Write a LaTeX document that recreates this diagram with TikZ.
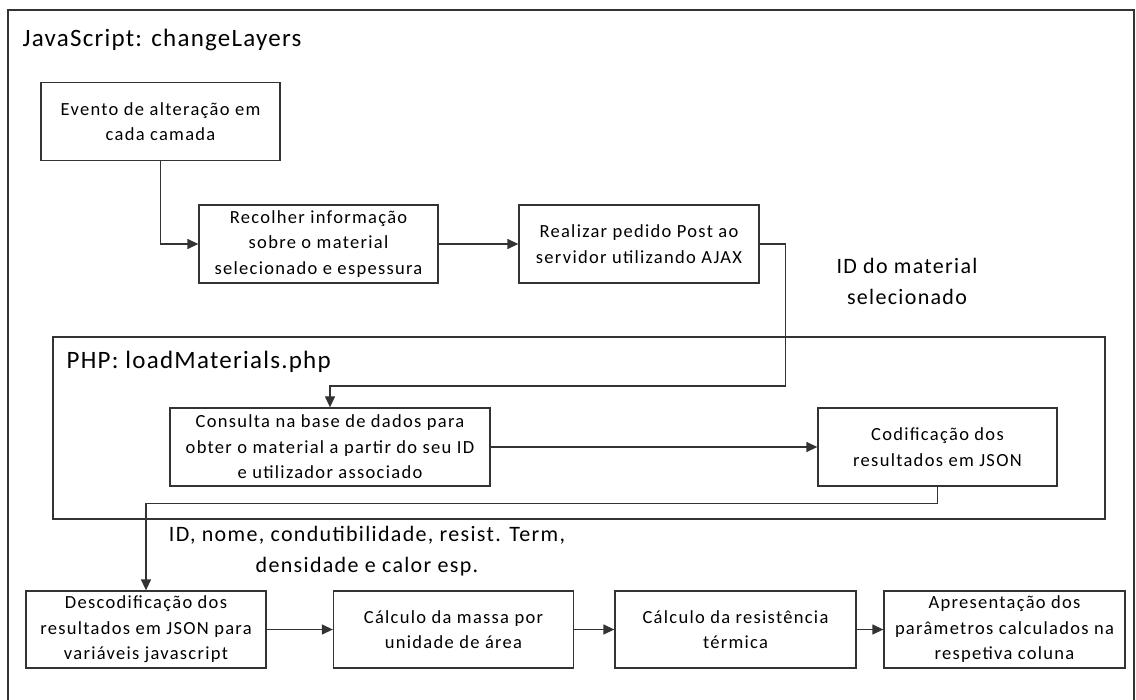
\documentclass[tikz,border=0pt]{standalone}
\usepackage{fontspec}
\setmainfont{Carlito}
\newfontfamily\boxfont[LetterSpace=7]{Carlito}
\newfontfamily\lblfont[LetterSpace=6]{Carlito}
\newfontfamily\ttlfont[LetterSpace=5]{Carlito}
\usetikzlibrary{arrows.meta}

\begin{document}
\begin{tikzpicture}[x=1pt, y=-1pt,
    line width=1.3pt, draw=black!80,
    box/.style={draw, align=center, minimum width=239pt, minimum height=78pt,
        inner sep=2pt, font=\boxfont\fontsize{18.5}{25.5}\selectfont},
    big/.style={font=\lblfont\fontsize{22}{31}\selectfont, align=center, inner sep=0pt},
    title/.style={font=\ttlfont\fontsize{25}{30}\selectfont, anchor=west, inner sep=0pt},
    arr/.style={-{Triangle[length=11pt, width=10pt]}}]
            \useasboundingbox (0, 0) rectangle (1136, 700);
            \fill[white] (0, 0) rectangle (1136, 700);

            \draw (8, 10) rectangle (1134, 720);
            \node[title] (js) at (22, 40) {JavaScript: changeLayers};

            \node[box] (ev) at (160.5, 121.5) {Evento de alteração em\\cada camada};
            \node[box] (rec) at (318.5, 244) {Recolher informação\\sobre o material\\selecionado e espessura};
            \node[box, minimum width=240pt] (ped) at (639, 244) {Realizar pedido Post ao\\servidor utilizando AJAX};

            \node[big] (idlbl) at (907, 281) {ID do material\\selecionado};

            \draw (53, 337) rectangle (1105, 519);
            \node[title] (php) at (66, 362) {PHP: loadMaterials.php};

            \node[box, minimum width=320pt] (cons) at (330, 447) {Consulta na base de dados para\\obter o material a partir do seu ID\\e utilizador associado};
            \node[box] (cod) at (937.5, 447) {Codificação dos\\resultados em JSON};

            \node[big] (retlbl) at (367, 551) {ID, nome, condutibilidade, resist. Term,\\densidade e calor esp.};

            \node[box, minimum width=240pt, minimum height=77pt] (desc) at (146, 629.5) {Descodificação dos\\resultados em JSON para\\variáveis javascript};
            \node[box, minimum width=240pt, minimum height=77pt] (massa) at (453.5, 629.5) {Cálculo da massa por\\unidade de área};
            \node[box, minimum width=241pt, minimum height=77pt] (res) at (735.5, 629.5) {Cálculo da resistência\\térmica};
            \node[box, minimum width=241pt, minimum height=77pt] (apr) at (1004.5, 629.5) {Apresentação dos\\parâmetros calculados na\\respetiva coluna};

            \draw[arr] (ev.south) |- (rec.west);
            \draw[arr] (rec) -- (ped);
            \draw[arr] (ped.east) -- ++(26, 0) -- ++(0, 142) -| (cons.north);
            \draw[arr] (cons) -- (cod);
            \draw[arr] (cod.south) -- ++(0, 17) -| (desc.north);
            \draw[arr] (desc) -- (massa);
            \draw[arr] (massa) -- (res);
            \draw[arr] (res) -- (apr);

        \end{tikzpicture}
\end{document}
